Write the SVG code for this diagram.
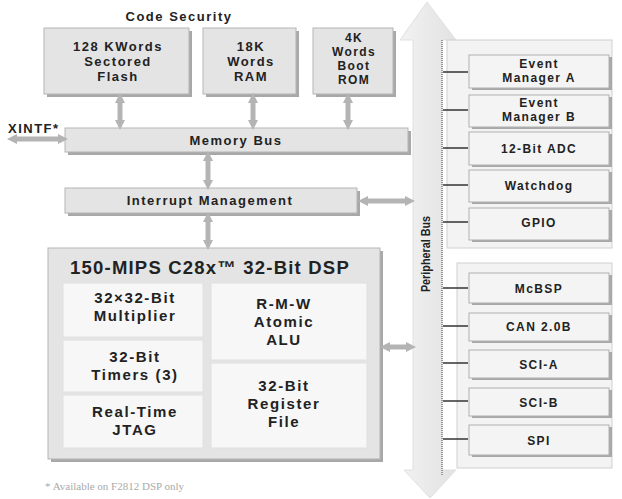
<svg xmlns="http://www.w3.org/2000/svg" width="622" height="499" viewBox="0 0 622 499">
<defs>
<style>
.t{font-family:"Liberation Sans",Arial,sans-serif;font-weight:bold;fill:#222;text-anchor:middle}
.b{font-size:13px;letter-spacing:1.5px}
.r{font-size:12px;letter-spacing:1.4px}
.c{font-size:15px;letter-spacing:1.6px}
.p{font-size:12px;letter-spacing:1.4px}
.box{fill:#e4e4e4;stroke:#b5b5b5;stroke-width:1}
.cell{fill:#f7f7f7;stroke:#e0e0e0;stroke-width:1}
.pbox{fill:#f4f4f4;stroke:#b0b0b0;stroke-width:1}
.shadow{fill:#a8a8a8}
.arr{stroke:#b4b4b4;stroke-width:5;fill:none;marker-start:url(#ah);marker-end:url(#ah)}
.tick{stroke:#333;stroke-width:1.5}
</style>
<marker id="ah" viewBox="0 0 10 10" refX="2" refY="5" markerWidth="10" markerHeight="10" markerUnits="userSpaceOnUse" orient="auto-start-reverse">
<path d="M0,0 L10,5 L0,10 Z" fill="#b4b4b4"/>
</marker>
<linearGradient id="bus" x1="0" y1="0" x2="1" y2="0">
<stop offset="0" stop-color="#f2f2f2"/>
<stop offset="1" stop-color="#e2e2e2"/>
</linearGradient>
</defs>
<rect width="622" height="499" fill="#ffffff"/>

<text class="t b" x="179" y="21" font-size="14">Code Security</text>

<g id="flash">
<rect class="shadow" x="47" y="31" width="145" height="66"/>
<rect class="box" x="44" y="28" width="145" height="66"/>
<text class="t b" x="118" y="51">128 KWords</text>
<text class="t b" x="118" y="66">Sectored</text>
<text class="t b" x="118" y="81">Flash</text>
</g>
<g id="ram">
<rect class="shadow" x="206" y="31" width="93" height="66"/>
<rect class="box" x="203" y="28" width="93" height="66"/>
<text class="t b" x="251" y="51">18K</text>
<text class="t b" x="251" y="66">Words</text>
<text class="t b" x="251" y="81">RAM</text>
</g>
<g id="bootrom">
<rect class="shadow" x="316" y="31" width="80" height="66"/>
<rect class="box" x="313" y="28" width="80" height="66"/>
<text class="t r" x="354" y="42">4K</text>
<text class="t r" x="354" y="56">Words</text>
<text class="t r" x="354" y="70">Boot</text>
<text class="t r" x="354" y="84">ROM</text>
</g>

<text class="t b" x="8" y="133" style="text-anchor:start">XINTF*</text>

<g id="membus">
<rect class="shadow" x="68" y="131" width="343" height="24"/>
<rect class="box" x="65" y="128" width="343" height="24"/>
<text class="t b" x="236" y="145" font-size="14">Memory Bus</text>
</g>

<g id="interrupt">
<rect class="shadow" x="68" y="191" width="292" height="25"/>
<rect class="box" x="65" y="188" width="292" height="25"/>
<text class="t b" x="210" y="205" font-size="14">Interrupt Management</text>
</g>

<g id="dsp">
<rect class="shadow" x="51" y="251" width="332" height="211"/>
<rect class="box" x="48" y="248" width="332" height="211"/>
<text class="t" x="210" y="274" font-size="18.5" letter-spacing="1.2">150-MIPS C28x™ 32-Bit DSP</text>
<rect class="cell" x="63" y="283" width="140" height="54"/>
<rect class="cell" x="63" y="340" width="140" height="52"/>
<rect class="cell" x="63" y="395" width="140" height="53"/>
<rect class="cell" x="211" y="283" width="156" height="77"/>
<rect class="cell" x="211" y="363" width="156" height="85"/>
<text class="t c" x="135" y="303">32×32-Bit</text>
<text class="t c" x="135" y="321">Multiplier</text>
<text class="t c" x="135" y="362">32-Bit</text>
<text class="t c" x="135" y="380">Timers (3)</text>
<text class="t c" x="135" y="417">Real-Time</text>
<text class="t c" x="135" y="435">JTAG</text>
<text class="t c" x="284" y="309">R-M-W</text>
<text class="t c" x="284" y="327">Atomic</text>
<text class="t c" x="284" y="345">ALU</text>
<text class="t c" x="284" y="391">32-Bit</text>
<text class="t c" x="284" y="409">Register</text>
<text class="t c" x="284" y="427">File</text>
</g>

<g id="peripheral-bus">
<polygon points="427,2 456,40 442,40 442,470 456,470 430,498 404,470 413,470 413,40 400,40" fill="url(#bus)" stroke="#e0e0e0" stroke-width="1"/>
<line x1="442" y1="40" x2="442" y2="475" stroke="#999" stroke-width="2" stroke-dasharray="1,1"/>
<text class="t" font-size="12" transform="translate(430,254) rotate(-90) scale(0.9,1)">Peripheral Bus</text>
</g>

<g id="periph-group1">
<rect x="447" y="40" width="165" height="208" fill="#f3f3f3" stroke="#d0d0d0"/>
</g>
<g id="event-manager-a">
<rect class="shadow" x="472" y="57" width="140" height="33"/>
<rect class="pbox" x="469" y="55" width="140" height="33"/>
<text class="t p" x="539" y="68">Event</text>
<text class="t p" x="539" y="82">Manager A</text>
</g>
<g id="event-manager-b">
<rect class="shadow" x="472" y="97" width="140" height="32"/>
<rect class="pbox" x="469" y="95" width="140" height="32"/>
<text class="t p" x="539" y="107">Event</text>
<text class="t p" x="539" y="121">Manager B</text>
</g>
<g id="adc">
<rect class="shadow" x="472" y="134" width="140" height="33"/>
<rect class="pbox" x="469" y="132" width="140" height="33"/>
<text class="t p" x="539" y="153">12-Bit ADC</text>
</g>
<g id="watchdog">
<rect class="shadow" x="472" y="172" width="140" height="32"/>
<rect class="pbox" x="469" y="170" width="140" height="32"/>
<text class="t p" x="539" y="190">Watchdog</text>
</g>
<g id="gpio">
<rect class="shadow" x="472" y="210" width="140" height="32"/>
<rect class="pbox" x="469" y="208" width="140" height="32"/>
<text class="t p" x="539" y="227">GPIO</text>
</g>

<g id="periph-group2">
<rect x="457" y="263" width="155" height="205" fill="#f3f3f3" stroke="#d0d0d0"/>
</g>
<g id="mcbsp">
<rect class="shadow" x="472" y="275" width="140" height="30"/>
<rect class="pbox" x="469" y="273" width="140" height="30"/>
<text class="t p" x="539" y="293">McBSP</text>
</g>
<g id="can">
<rect class="shadow" x="472" y="315" width="140" height="28"/>
<rect class="pbox" x="469" y="313" width="140" height="28"/>
<text class="t p" x="539" y="331">CAN 2.0B</text>
</g>
<g id="sci-a">
<rect class="shadow" x="472" y="352" width="140" height="28"/>
<rect class="pbox" x="469" y="350" width="140" height="28"/>
<text class="t p" x="539" y="369">SCI-A</text>
</g>
<g id="sci-b">
<rect class="shadow" x="472" y="390" width="140" height="28"/>
<rect class="pbox" x="469" y="388" width="140" height="28"/>
<text class="t p" x="539" y="407">SCI-B</text>
</g>
<g id="spi">
<rect class="shadow" x="472" y="427" width="140" height="30"/>
<rect class="pbox" x="469" y="425" width="140" height="30"/>
<text class="t p" x="539" y="445">SPI</text>
</g>

<g id="connectors">
<line class="arr" x1="120" y1="101" x2="120" y2="122"/>
<line class="arr" x1="253" y1="101" x2="253" y2="122"/>
<line class="arr" x1="348" y1="101" x2="348" y2="122"/>
<line class="arr" x1="15" y1="139" x2="60" y2="139"/>
<line class="arr" x1="208" y1="159" x2="208" y2="182"/>
<line class="arr" x1="366" y1="201" x2="407" y2="201"/>
<line class="arr" x1="208" y1="220" x2="208" y2="242"/>
<line class="arr" x1="388" y1="347" x2="408" y2="347"/>
<line class="tick" x1="443" y1="72" x2="468" y2="72"/>
<line class="tick" x1="443" y1="110" x2="468" y2="110"/>
<line class="tick" x1="443" y1="148" x2="468" y2="148"/>
<line class="tick" x1="443" y1="185" x2="468" y2="185"/>
<line class="tick" x1="443" y1="222" x2="468" y2="222"/>
<line class="tick" x1="443" y1="288" x2="468" y2="288"/>
<line class="tick" x1="443" y1="326" x2="468" y2="326" stroke="#888"/>
<line class="tick" x1="443" y1="363" x2="468" y2="363" stroke="#666"/>
<line class="tick" x1="443" y1="401" x2="468" y2="401"/>
<line class="tick" x1="443" y1="439" x2="468" y2="439"/>
</g>

<text x="45" y="490" font-family="Liberation Serif, Times New Roman, serif" font-size="11" fill="#aaa">* Available on F2812 DSP only</text>
</svg>
